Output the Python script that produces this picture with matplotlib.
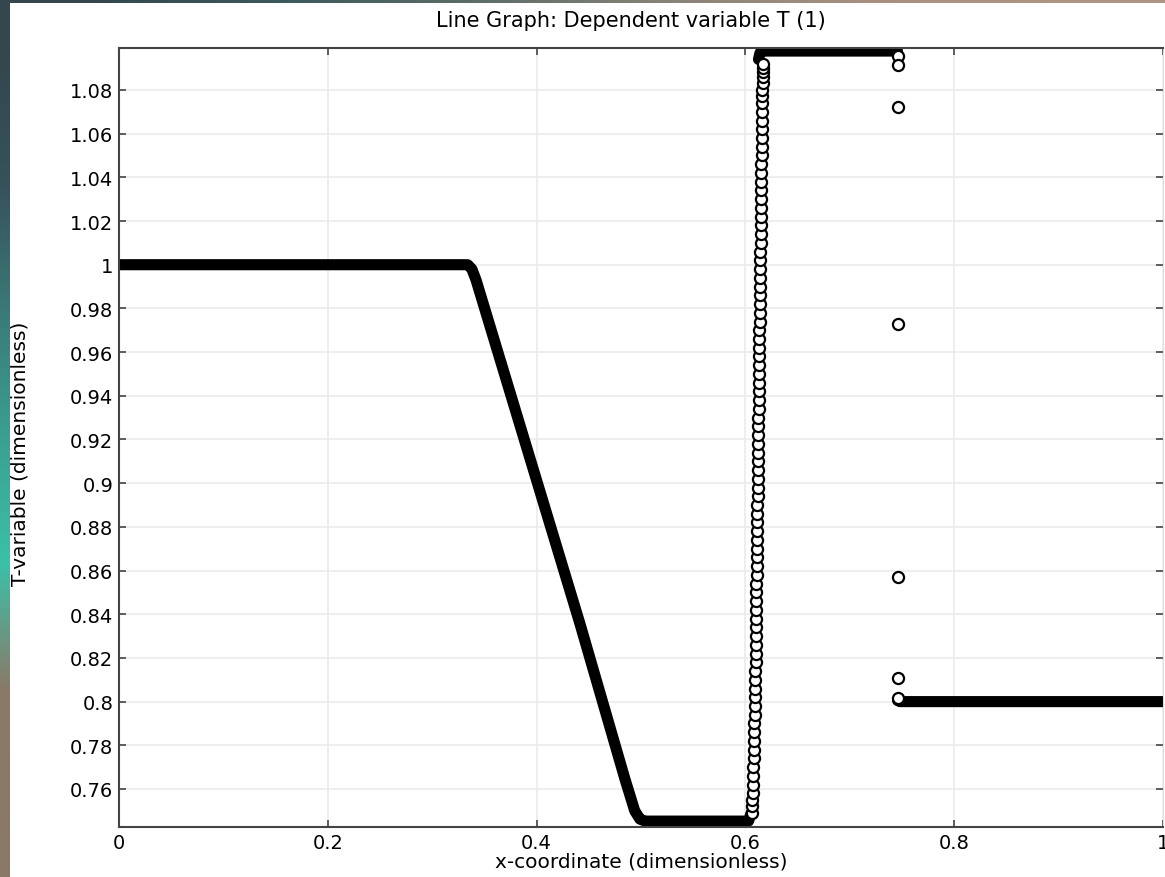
import matplotlib.pyplot as plt
from matplotlib.colors import to_rgb

# dense solution band (drawn as thick line through these points)
band_x = [0.0, 0.334, 0.338, 0.342, 0.4415, 0.4846, 0.494, 0.499, 0.504, 0.603, 0.6055]
band_y = [1.0, 1.0, 0.998, 0.993, 0.8357, 0.7646, 0.750, 0.7462, 0.7453, 0.7453, 0.7490]

top_x = [0.6125, 0.614, 0.617, 0.7457]
top_y = [1.094, 1.0970, 1.0978, 1.0978]

low_x = [0.7457, 0.748, 1.0]
low_y = [0.8005, 0.8000, 0.8000]

# resolved circles across the steep front
shock_y = [0.749, 0.752, 0.755, 0.758, 0.762, 0.766, 0.770, 0.774, 0.778, 0.782,
           0.786, 0.790, 0.794, 0.798, 0.802, 0.806, 0.810, 0.814, 0.818, 0.822,
           0.826, 0.830, 0.834, 0.838, 0.842, 0.846, 0.850, 0.854, 0.858, 0.862,
           0.866, 0.870, 0.874, 0.878, 0.882, 0.886, 0.890, 0.894, 0.898, 0.902,
           0.906, 0.910, 0.914, 0.918, 0.922, 0.926, 0.930, 0.934, 0.938, 0.942,
           0.946, 0.950, 0.954, 0.958, 0.962, 0.966, 0.970, 0.974, 0.978, 0.982,
           0.986, 0.990, 0.994, 0.998, 1.002, 1.006, 1.010, 1.014, 1.018, 1.022,
           1.026, 1.030, 1.034, 1.038, 1.042, 1.046, 1.050, 1.054, 1.058, 1.062,
           1.066, 1.070, 1.074, 1.077, 1.080, 1.083, 1.086, 1.088, 1.090, 1.092]
shock_x = [0.6060, 0.6063, 0.6066, 0.6069, 0.6072, 0.6075, 0.6077, 0.6079, 0.6081, 0.6083,
           0.6085, 0.6087, 0.6089, 0.6091, 0.6093, 0.6094, 0.6095, 0.6096, 0.6097, 0.6098,
           0.6099, 0.6100, 0.6101, 0.6102, 0.6103, 0.6104, 0.6105, 0.6106, 0.6107, 0.6108,
           0.6109, 0.6110, 0.6111, 0.6112, 0.6113, 0.6114, 0.6115, 0.6116, 0.6117, 0.6118,
           0.6119, 0.6120, 0.6121, 0.6122, 0.6123, 0.6124, 0.6125, 0.6126, 0.6127, 0.6128,
           0.6129, 0.6130, 0.6131, 0.6132, 0.6133, 0.6134, 0.6135, 0.6136, 0.6137, 0.6138,
           0.6139, 0.6140, 0.6141, 0.6142, 0.6143, 0.6144, 0.6145, 0.6146, 0.6147, 0.6148,
           0.6149, 0.6150, 0.6151, 0.6152, 0.6153, 0.6154, 0.6155, 0.6156, 0.6157, 0.6158,
           0.6159, 0.6160, 0.6161, 0.6162, 0.6163, 0.6164, 0.6165, 0.6166, 0.6167, 0.6168]

# isolated points at the contact
contact_x = [0.7457, 0.7457, 0.7457, 0.7457, 0.7457, 0.7457, 0.7457]
contact_y = [1.0956, 1.0914, 1.0722, 0.9730, 0.8572, 0.8110, 0.8015]

yticks = [0.76, 0.78, 0.8, 0.82, 0.84, 0.86, 0.88, 0.9, 0.92, 0.94, 0.96, 0.98,
          1.0, 1.02, 1.04, 1.06, 1.08]
ytick_labels = ["0.76", "0.78", "0.8", "0.82", "0.84", "0.86", "0.88", "0.9", "0.92",
                "0.94", "0.96", "0.98", "1", "1.02", "1.04", "1.06", "1.08"]
xticks = [0, 0.2, 0.4, 0.6, 0.8, 1.0]
xtick_labels = ["0", "0.2", "0.4", "0.6", "0.8", "1"]

# desktop background peeking in at the edges
side_colors = ["#34474f", "#37525a", "#3b7a78", "#3aa090", "#3cc0a8", "#8a7a68", "#8a7866"]
top_colors = ["#34474f", "#3d5a5c", "#5e6e68", "#8a8478", "#a89080", "#b09484"]

fig = plt.figure(figsize=(11.65, 8.78), dpi=100, facecolor="white")
side = fig.add_axes([0, 0, 10 / 1165, 1])
side.imshow([[to_rgb(c)] for c in side_colors], aspect="auto", interpolation="bilinear")
side.axis("off")
top = fig.add_axes([0, 1 - 4 / 878, 1, 4 / 878])
top.imshow([[to_rgb(c) for c in top_colors]], aspect="auto", interpolation="bilinear")
top.axis("off")

ax = fig.add_axes([119 / 1165, 1 - 828 / 878, 1044 / 1165, 779 / 878])

lw = 8
ax.plot(band_x, band_y, "-", color="black", lw=lw, solid_capstyle="round",
        solid_joinstyle="round")
ax.plot(top_x, top_y, "-", color="black", lw=lw, solid_capstyle="round",
        solid_joinstyle="round")
ax.plot(low_x, low_y, "-", color="black", lw=lw, solid_capstyle="round")

mk = dict(marker="o", ms=8, mfc="white", mec="black", mew=1.6, ls="none")
ax.plot(shock_x, shock_y, **mk)
ax.plot(contact_x, contact_y, **mk)

ax.set_xlim(0, 1)
ax.set_ylim(0.7426, 1.0992)
ax.set_xticks(xticks)
ax.set_xticklabels(xtick_labels)
ax.set_yticks(yticks)
ax.set_yticklabels(ytick_labels)
ax.tick_params(direction="in", length=5, width=1.2, colors="#444444",
               labelcolor="black", labelsize=14, top=True, right=True, pad=4)
ax.grid(True, color="#ebebeb", lw=1.2)
ax.set_axisbelow(True)
for s in ["left", "bottom", "top"]:
    ax.spines[s].set_color("#444444")
    ax.spines[s].set_linewidth(1.5)
ax.spines["right"].set_color("#e0e0e0")

ax.set_title("Line Graph: Dependent variable T (1)", fontsize=15, pad=16, x=0.49)
ax.set_xlabel("x-coordinate (dimensionless)", fontsize=14.5, labelpad=0)
ax.set_ylabel("T-variable (dimensionless)", fontsize=14.5)
ax.yaxis.set_label_coords(-0.086, 0.48)

fig.savefig("out.png", dpi=100)
